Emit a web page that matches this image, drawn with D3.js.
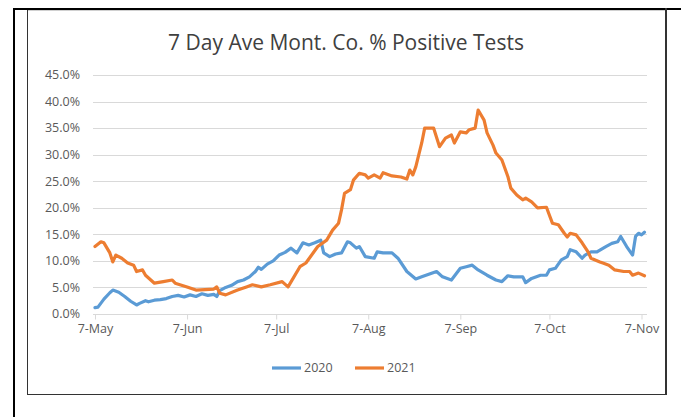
<!DOCTYPE html>
<html><head><meta charset="utf-8">
<script src="https://cdn.jsdelivr.net/npm/d3@7"></script>
<style>html,body{margin:0;padding:0;background:#fff;}svg{display:block;}</style>
</head><body>
<svg id="c" width="681" height="417"></svg>
<script>
const title = "7 Day Ave Mont. Co. % Positive Tests";
const seriesNames = ["2020", "2021"];
const seriesColors = ["#5B9BD5", "#ED7D31"];
const yTicks = [0, 5, 10, 15, 20, 25, 30, 35, 40, 45];
const xTickDates = ["05-07", "06-07", "07-07", "08-07", "09-07", "10-07", "11-07"];
const xTickLabels = ["7-May", "7-Jun", "7-Jul", "7-Aug", "7-Sep", "7-Oct", "7-Nov"];

const dates2020 = ["05-07","05-08","05-10","05-12","05-13","05-15","05-17","05-19","05-21","05-22","05-24","05-25","05-27","05-29","05-31","06-02","06-04","06-06","06-08","06-10","06-12","06-14","06-16","06-17","06-18","06-20","06-22","06-24","06-26","06-28","06-30","07-01","07-02","07-04","07-06","07-08","07-10","07-12","07-14","07-16","07-18","07-20","07-22","07-23","07-25","07-27","07-29","07-31","08-01","08-03","08-04","08-06","08-09","08-10","08-12","08-15","08-17","08-20","08-23","08-25","08-30","09-01","09-04","09-07","09-09","09-11","09-13","09-16","09-19","09-21","09-23","09-25","09-28","09-29","10-01","10-04","10-06","10-07","10-09","10-11","10-13","10-14","10-16","10-18","10-19","10-21","10-23","10-26","10-28","10-30","10-31","11-02","11-04","11-05","11-06","11-07","11-08"];
const values2020 = [1.2,1.3,2.8,4.0,4.5,4.1,3.3,2.4,1.7,2.0,2.5,2.3,2.6,2.7,2.9,3.3,3.5,3.2,3.6,3.3,3.8,3.5,3.7,3.3,4.4,5.0,5.4,6.1,6.4,7.0,8.0,8.8,8.4,9.4,10.0,11.1,11.6,12.4,11.5,13.4,13.0,13.4,13.9,11.5,10.8,11.3,11.5,13.6,13.4,12.4,12.7,10.8,10.5,11.7,11.5,11.5,10.5,8.0,6.6,7.0,8.0,7.0,6.4,8.6,8.9,9.2,8.3,7.3,6.4,6.1,7.2,7.0,7.0,5.9,6.7,7.3,7.3,8.3,8.6,10.2,10.8,12.1,11.7,10.5,11.1,11.7,11.7,12.7,13.3,13.6,14.6,12.7,11.1,14.6,15.2,14.9,15.4];

const dates2021 = ["05-07","05-09","05-10","05-12","05-13","05-14","05-16","05-18","05-20","05-21","05-23","05-24","05-27","05-30","06-02","06-03","06-07","06-10","06-16","06-17","06-18","06-20","06-24","06-27","06-29","07-02","07-05","07-09","07-11","07-15","07-17","07-21","07-24","07-26","07-28","07-29","07-30","08-01","08-02","08-04","08-06","08-07","08-09","08-11","08-12","08-15","08-18","08-20","08-21","08-22","08-23","08-25","08-26","08-29","08-31","09-02","09-04","09-05","09-07","09-09","09-10","09-12","09-13","09-15","09-16","09-18","09-19","09-21","09-23","09-24","09-26","09-28","09-29","10-01","10-03","10-06","10-07","10-08","10-10","10-12","10-13","10-14","10-16","10-18","10-20","10-21","10-24","10-25","10-27","10-29","11-01","11-03","11-04","11-06","11-08"];
const values2021 = [12.7,13.6,13.4,11.5,9.8,11.1,10.5,9.6,9.2,8.0,8.3,7.3,5.8,6.1,6.4,5.8,5.1,4.5,4.7,5.1,3.9,3.6,4.5,5.1,5.5,5.1,5.5,6.1,5.1,8.9,9.6,12.7,13.9,15.8,17.1,19.6,22.7,23.4,25.2,26.5,26.2,25.6,26.2,25.6,26.6,26.0,25.8,25.4,27.1,26.2,27.7,32.2,35.0,35.0,31.5,33.1,33.7,32.2,34.3,34.1,34.7,35.0,38.4,36.5,34.1,31.8,30.3,29.0,25.9,23.7,22.4,21.5,21.8,21.1,20.0,20.1,18.6,17.1,16.8,15.2,14.5,15.2,14.9,13.4,11.7,10.5,9.8,9.6,9.2,8.3,8.0,8.0,7.3,7.7,7.2];

const parse = s => new Date(2020, +s.slice(0,2) - 1, +s.slice(3,5));
const svg = d3.select("#c");
const font = "'Open Sans', sans-serif";
const txt = "#595959";

// frame
svg.append("line").attr("x1",13).attr("x2",681).attr("y1",9).attr("y2",9).attr("stroke","#000").attr("stroke-width",2);
svg.append("line").attr("x1",14).attr("x2",14).attr("y1",8).attr("y2",417).attr("stroke","#000").attr("stroke-width",2);
svg.append("line").attr("x1",27.5).attr("x2",666).attr("y1",10.5).attr("y2",10.5).attr("stroke","#d0d0d0");
svg.append("line").attr("x1",27.5).attr("x2",27.5).attr("y1",10).attr("y2",395).attr("stroke","#333");
svg.append("line").attr("x1",27).attr("x2",667).attr("y1",394.5).attr("y2",394.5).attr("stroke","#333");
svg.append("line").attr("x1",666).attr("x2",666).attr("y1",8).attr("y2",395).attr("stroke","#333").attr("stroke-width",2);

const x = d3.scaleTime().domain([parse("05-07"), parse("11-07")]).range([95, 641.5]);
const y = d3.scaleLinear().domain([0, 45]).range([314, 75]);

// grid
const g = svg.append("g");
g.selectAll("line.grid").data(yTicks.filter(d => d > 0)).join("line")
  .attr("x1", 93).attr("x2", 647).attr("y1", d => Math.round(y(d)) + 0.5).attr("y2", d => Math.round(y(d)) + 0.5)
  .attr("stroke", "#d9d9d9").attr("stroke-width", 1);

// y labels
g.selectAll("text.yl").data(yTicks).join("text")
  .attr("x", 80).attr("y", d => y(d)).attr("dy", "0.35em").attr("text-anchor", "end")
  .attr("font-family", font).attr("font-size", 12.5).attr("fill", txt)
  .text(d => d.toFixed(1) + "%");

// x axis
const xAxis = d3.axisBottom(x).tickValues(xTickDates.map(parse)).tickFormat((d, i) => xTickLabels[i]).tickSize(5).tickPadding(5);
const ax = svg.append("g").attr("transform", "translate(0,314.5)").call(xAxis);
ax.select(".domain").attr("stroke", "#d9d9d9").attr("d", "M93,0H647");
ax.selectAll(".tick line").attr("stroke", "#d9d9d9");
ax.selectAll(".tick text").attr("font-family", font).attr("font-size", 12.5).attr("fill", txt);

// lines
const line = d3.line().x(d => x(d[0])).y(d => y(d[1])).curve(d3.curveLinear);
const s2020 = dates2020.map((d, i) => [parse(d), values2020[i]]);
const s2021 = dates2021.map((d, i) => [parse(d), values2021[i]]);
[s2020, s2021].forEach((s, i) => {
  svg.append("path").datum(s).attr("d", line).attr("fill", "none")
    .attr("stroke", seriesColors[i]).attr("stroke-width", 3.2).attr("stroke-linejoin", "round").attr("stroke-linecap", "round");
});

// title
svg.append("text").attr("x", 346).attr("y", 50).attr("text-anchor", "middle")
  .attr("font-family", font).attr("font-size", 21).attr("fill", "#404040").text(title);

// legend
const legX = [272, 355];
seriesNames.forEach((n, i) => {
  svg.append("line").attr("x1", legX[i]).attr("x2", legX[i] + 29).attr("y1", 368).attr("y2", 368)
    .attr("stroke", seriesColors[i]).attr("stroke-width", 3.2);
  svg.append("text").attr("x", legX[i] + 32).attr("y", 368).attr("dy", "0.35em")
    .attr("font-family", font).attr("font-size", 12.5).attr("fill", txt).text(n);
});
</script>
</body></html>
